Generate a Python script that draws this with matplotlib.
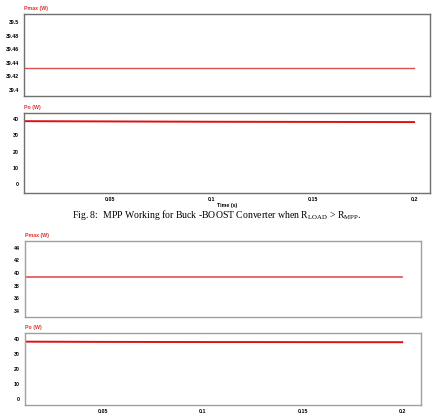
import matplotlib.pyplot as plt

# данные: время и мощность
time_s = [0.0, 0.025, 0.05, 0.075, 0.1, 0.125, 0.15, 0.175, 0.2]
pmax_a = [39.432, 39.432, 39.432, 39.432, 39.432, 39.432, 39.432, 39.432, 39.432]
po_a = [38.8, 38.7, 38.6, 38.5, 38.4, 38.35, 38.3, 38.25, 38.2]
pmax_b = [39.4, 39.4, 39.4, 39.4, 39.4, 39.4, 39.4, 39.4, 39.4]
po_b = [38.3, 38.2, 38.1, 38.05, 38.0, 38.0, 37.95, 37.9, 37.9]

x_ticks = [0.05, 0.1, 0.15, 0.2]
x_tick_labels = ['0.05', '0.1', '0.15', '0.2']
pmax_a_ticks = [39.4, 39.42, 39.44, 39.46, 39.48, 39.5]
pmax_a_labels = ['39.4', '39.42', '39.44', '39.46', '39.48', '39.5']
po_ticks = [0, 10, 20, 30, 40]
pmax_b_ticks = [34, 36, 38, 40, 42, 44]

plt.rcParams['font.family'] = 'Liberation Sans'
plt.rcParams['mathtext.fontset'] = 'custom'
plt.rcParams['mathtext.rm'] = 'Liberation Serif'

fig = plt.figure(figsize=(4.33, 4.16), dpi=100)

label_color = '#e03030'


def style_axes(ax, frame_color):
    for sp in ax.spines.values():
        sp.set_color(frame_color)
        sp.set_linewidth(1.0)
    ax.tick_params(axis='y', length=0, pad=3.5, labelsize=3.8)
    ax.tick_params(axis='x', length=0, pad=3, labelsize=3.8)
    for lbl in ax.get_xticklabels() + ax.get_yticklabels():
        lbl.set_fontweight('bold')


def panel(rect, t, y, ylim, yticks, ylabels, title, xlim, color, lw, frame, show_x, xlabel=None):
    ax = fig.add_axes(rect)
    ax.plot(t, y, color=color, linewidth=lw)
    ax.set_xlim(*xlim)
    ax.set_ylim(*ylim)
    ax.set_yticks(yticks)
    ax.set_yticklabels(ylabels)
    ax.set_xticks(x_ticks)
    if show_x:
        ax.set_xticklabels(x_tick_labels)
    else:
        ax.set_xticklabels([])
    if xlabel:
        ax.set_xlabel(xlabel, fontsize=3.8, fontweight='bold', labelpad=0.5)
    ax.text(0.0, 1.04, title, transform=ax.transAxes, fontsize=3.8,
            fontweight='bold', color=label_color, ha='left', va='bottom')
    style_axes(ax, frame)
    return ax


# верхний рисунок
panel([0.0554, 0.769, 0.938, 0.197], time_s, pmax_a, (39.391, 39.512),
      pmax_a_ticks, pmax_a_labels, 'Pmax (W)', (0.0076, 0.2079),
      '#e05050', 1.0, '#707070', False)
panel([0.0554, 0.536, 0.938, 0.192], time_s, po_a, (-5.5, 43.7),
      po_ticks, [str(v) for v in po_ticks], 'Po (W)', (0.0076, 0.2079),
      '#dd1111', 1.4, '#707070', True, 'Time (s)')

# подпись рисунка
fig.text(0.5, 1 - 215 / 416,
         r'Fig. 8:  MPP Working for Buck -BOOST Converter when R$_{\mathrm{LOAD}}$ > R$_{\mathrm{MPP}}$.',
         fontsize=7, family='Liberation Serif', ha='center', va='center')

# нижний рисунок
panel([0.0577, 0.238, 0.915, 0.183], time_s, pmax_b, (33.05, 45.1),
      pmax_b_ticks, [str(v) for v in pmax_b_ticks], 'Pmax (W)', (0.0109, 0.2095),
      '#e05050', 1.2, '#a0a0a0', False)
panel([0.0577, 0.0264, 0.915, 0.173], time_s, po_b, (-4, 44),
      po_ticks, [str(v) for v in po_ticks], 'Po (W)', (0.0109, 0.2095),
      '#dd1111', 1.4, '#a0a0a0', True)

plt.savefig('out.png', dpi=100)
